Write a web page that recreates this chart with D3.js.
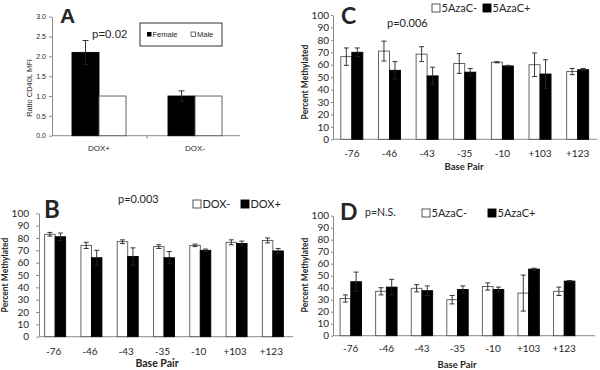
<!DOCTYPE html>
<html lang="en">
<head>
<meta charset="UTF-8">
<title>Methylation panels</title>
<script src="https://cdn.jsdelivr.net/npm/d3@7/dist/d3.min.js"></script>
<style>
    body{margin:0;background:#fff;}
    svg{display:block;}
    .cal{font-family:Lato,"Liberation Sans",sans-serif;fill:#262626;}
    .ari{font-family:"Liberation Sans",Arial,sans-serif;fill:#262626;}
</style>
</head>
<body>
<svg id="chart" width="600" height="370"></svg>
<script>
// ---- data ----
var ratioCats=["DOX+","DOX-"];
var ratioTicks=[0,0.5,1,1.5,2,2.5,3];
var femaleRatio=[2.1,1.0];
var femaleErr=[0.3,0.13];
var maleRatio=[1.0,1.0];
var maleErr=[0,0];

var basePairs=["-76","-46","-43","-35","-10","+103","+123"];
var pctTicks=[0,10,20,30,40,50,60,70,80,90,100];

// B: DOX- / DOX+
var bDoxMinus=[83,74,77,73,74,76.5,78];
var bDoxMinusErr=[1.5,2.5,1.5,1.5,1,2,2];
var bDoxPlus=[81,64,65,64,70,75.5,69.5];
var bDoxPlusErr=[3,6,7,5,1,2,2];

// C: 5AzaC- / 5AzaC+
var cAzaMinus=[66.5,71,68.5,61,62,60,54.5];
var cAzaMinusErr=[7,8,6,8,0.5,9.5,2.5];
var cAzaPlus=[70,55.5,51,54,59,52.5,56];
var cAzaPlusErr=[3.5,7,7,3,0.5,11.5,1];

// D: 5AzaC- / 5AzaC+
var dAzaMinus=[31,37,39.5,30,41,35.5,37];
var dAzaMinusErr=[3,3,3,3.5,3,15,3.5];
var dAzaPlus=[45,40.5,37.5,38.5,38.5,55.5,45.5];
var dAzaPlusErr=[8,6.5,4,3,2,0.7,0.5];

var svg=d3.select("#chart");

function drawPanel(p){
    var g=svg.append("g");
    var x=d3.scaleBand().domain(p.cats).range(p.band);
    var y=d3.scaleLinear().domain([0,p.ticks[p.ticks.length-1]]).range(p.yRange);
    var bw=x.bandwidth();
    var n=p.series.length;

    // y axis
    var ax=g.append("g")
        .attr("transform","translate("+p.axisX+",0)")
        .call(d3.axisLeft(y).tickValues(p.ticks).tickSize(p.tickSize).tickSizeOuter(0).tickPadding(p.tickPad));
    ax.select(".domain").attr("stroke","#8c8c8c");
    ax.selectAll(".tick line").attr("stroke","#8c8c8c");
    ax.selectAll(".tick text")
        .attr("class",p.font)
        .style("font-size",p.tickFont+"px")
        .attr("fill","#262626");

    // baseline
    g.append("line")
        .attr("x1",p.axisX).attr("x2",p.axisEnd)
        .attr("y1",y(0)).attr("y2",y(0))
        .attr("stroke","#8c8c8c");
    if(p.catTicks){
        p.cats.slice(1).forEach(function(c){
            g.append("line")
                .attr("x1",x(c)).attr("x2",x(c))
                .attr("y1",y(0)).attr("y2",y(0)+3)
                .attr("stroke","#8c8c8c");
        });
    }

    // bars
    p.series.forEach(function(s,i){
        p.cats.forEach(function(c,j){
            var cx=x(c)+bw/2-n*p.barW/2+i*p.barW;
            g.append("rect")
                .attr("x",cx).attr("y",y(s.vals[j]))
                .attr("width",p.barW).attr("height",y(0)-y(s.vals[j]))
                .attr("fill",s.fill)
                .attr("stroke",s.fill=="#fff"?"#555":"#000")
                .attr("stroke-width",0.9);
        });
    });
    // error bars
    p.series.forEach(function(s,i){
        p.cats.forEach(function(c,j){
            var e=s.errs[j];
            if(!e) return;
            var mx=x(c)+bw/2-n*p.barW/2+(i+0.5)*p.barW;
            var hi=y(s.vals[j]+e), lo=y(s.vals[j]-e);
            g.append("line").attr("x1",mx).attr("x2",mx).attr("y1",hi).attr("y2",lo)
                .attr("stroke","#222").attr("stroke-width",0.9);
            [hi,lo].forEach(function(yy){
                g.append("line").attr("x1",mx-p.cap).attr("x2",mx+p.cap).attr("y1",yy).attr("y2",yy)
                    .attr("stroke","#222").attr("stroke-width",0.9);
            });
        });
    });

    // category labels
    p.cats.forEach(function(c){
        g.append("text")
            .attr("class",p.font)
            .attr("x",x(c)+bw/2+p.catShift).attr("y",p.catY)
            .attr("text-anchor","middle")
            .style("font-size",p.catFont+"px")
            .text(c);
    });

    // y title
    g.append("text")
        .attr("class",p.font)
        .attr("transform","translate("+p.yTitleX+","+p.yTitleY+") rotate(-90)")
        .attr("text-anchor","middle")
        .style("font-size",p.yTitleFont+"px")
        .style("font-weight",p.yTitleBold?"bold":"normal")
        .text(p.yTitle);

    // x title
    if(p.xTitle){
        g.append("text")
            .attr("class",p.font)
            .attr("x",p.xTitleX).attr("y",p.xTitleY)
            .attr("text-anchor","middle")
            .style("font-size",p.xTitleFont+"px")
            .style("font-weight","bold")
            .text(p.xTitle);
    }

    // panel letter
    g.append("text")
        .attr("class",p.font)
        .attr("x",p.letterX).attr("y",p.letterY)
        .style("font-size",p.letterFont+"px")
        .style("font-weight","bold")
        .attr("fill","#000")
        .text(p.letter);

    // p value
    g.append("text")
        .attr("class",p.font)
        .attr("x",p.pX).attr("y",p.pY)
        .style("font-size",p.pFont+"px")
        .text(p.pText);
    return g;
}

// squares + label legend for B/C/D
function legendItem(g,xx,yy,fill,label,size,font){
    g.append("rect").attr("x",xx).attr("y",yy-size/2).attr("width",size).attr("height",size)
        .attr("fill",fill).attr("stroke",fill=="#fff"?"#444":"#000").attr("stroke-width",0.9);
    g.append("text").attr("class","cal").attr("x",xx+size+1.5).attr("y",yy+font*0.36)
        .style("font-size",font+"px").text(label);
}

// ---- A ----
var gA=drawPanel({
    cats:ratioCats, ticks:ratioTicks,
    series:[{vals:femaleRatio,errs:femaleErr,fill:"#000"},{vals:maleRatio,errs:maleErr,fill:"#fff"}],
    band:[51,243], yRange:[135.7,16.7], axisX:52, axisEnd:240, catTicks:true,
    tickSize:3, tickPad:3, tickFont:7, barW:27, cap:3,
    font:"ari", catY:151, catFont:8, catShift:0,
    yTitle:"Ratio CD40L MFI", yTitleX:32, yTitleY:88, yTitleFont:7.5, yTitleBold:false,
    letter:"A", letterX:60, letterY:23, letterFont:21,
    pText:"p=0.02", pX:92, pY:38, pFont:11.5
});
gA.append("rect").attr("x",140).attr("y",23).attr("width",82).attr("height",23)
    .attr("fill","#fff").attr("stroke","#333").attr("stroke-width",1);
gA.append("rect").attr("x",147).attr("y",32).attr("width",4.5).attr("height",4.5).attr("fill","#000");
gA.append("text").attr("class","ari").attr("x",152.5).attr("y",37).style("font-size","7.5px").text("Female");
gA.append("rect").attr("x",191).attr("y",32).attr("width",4.5).attr("height",4.5).attr("fill","#fff").attr("stroke","#333").attr("stroke-width",0.7);
gA.append("text").attr("class","ari").attr("x",197).attr("y",37).style("font-size","7.5px").text("Male");

// ---- B ----
var gB=drawPanel({
    cats:basePairs, ticks:pctTicks,
    series:[{vals:bDoxMinus,errs:bDoxMinusErr,fill:"#fff"},{vals:bDoxPlus,errs:bDoxPlusErr,fill:"#000"}],
    band:[37,291], yRange:[336.7,213.3], axisX:39, axisEnd:293,
    tickSize:3, tickPad:7, tickFont:10, barW:10.5, cap:2.5,
    font:"cal", catY:355, catFont:10, catShift:-1.5,
    yTitle:"Percent Methylated", yTitleX:8, yTitleY:275, yTitleFont:8.5, yTitleBold:true,
    xTitle:"Base Pair", xTitleX:157, xTitleY:367, xTitleFont:10.5,
    letter:"B", letterX:44, letterY:218, letterFont:24,
    pText:"p=0.003", pX:118, pY:203, pFont:11
});
legendItem(gB,193,204,"#fff","DOX-",8,11);
legendItem(gB,241,204,"#000","DOX+",8,11);

// ---- C ----
var gC=drawPanel({
    cats:basePairs, ticks:pctTicks,
    series:[{vals:cAzaMinus,errs:cAzaMinusErr,fill:"#fff"},{vals:cAzaPlus,errs:cAzaPlusErr,fill:"#000"}],
    band:[333,596.5], yRange:[139.3,15], axisX:333, axisEnd:597,
    tickSize:2, tickPad:2, tickFont:10, barW:11, cap:2.5,
    font:"cal", catY:157, catFont:10, catShift:0,
    yTitle:"Percent Methylated", yTitleX:308, yTitleY:82, yTitleFont:8.5, yTitleBold:true,
    xTitle:"Base Pair", xTitleX:464, xTitleY:170, xTitleFont:9.5,
    letter:"C", letterX:341, letterY:24, letterFont:23,
    pText:"p=0.006", pX:387, pY:27, pFont:11
});
legendItem(gC,432,8,"#fff","5AzaC-",8,11);
legendItem(gC,483,8,"#000","5AzaC+",8,11);

// ---- D ----
var gD=drawPanel({
    cats:basePairs, ticks:pctTicks,
    series:[{vals:dAzaMinus,errs:dAzaMinusErr,fill:"#fff"},{vals:dAzaPlus,errs:dAzaPlusErr,fill:"#000"}],
    band:[333,582], yRange:[335.7,215.7], axisX:333, axisEnd:595,
    tickSize:2, tickPad:2, tickFont:10, barW:10.7, cap:2.5,
    font:"cal", catY:352, catFont:10, catShift:0,
    yTitle:"Percent Methylated", yTitleX:308, yTitleY:275, yTitleFont:8.5, yTitleBold:true,
    xTitle:"Base Pair", xTitleX:457, xTitleY:368, xTitleFont:9.5,
    letter:"D", letterX:340, letterY:220, letterFont:23,
    pText:"p=N.S.", pX:365, pY:216, pFont:10.5
});
legendItem(gD,422,213,"#fff","5AzaC-",8,11);
legendItem(gD,488,213,"#000","5AzaC+",8,11);
</script>
</body>
</html>
